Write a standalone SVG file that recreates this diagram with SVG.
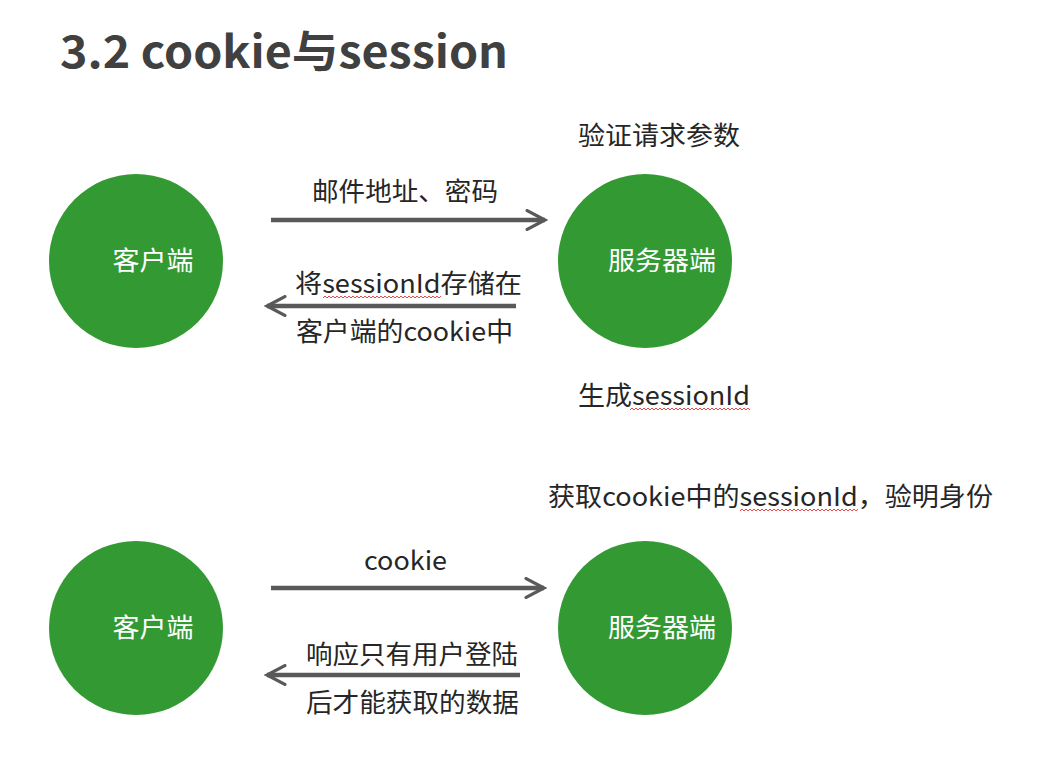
<svg xmlns="http://www.w3.org/2000/svg" width="1049" height="757" viewBox="0 0 1049 757">
<style>
.node{fill:#339933}
.nl{fill:#ffffff;font-family:"Noto Sans CJK SC","Liberation Sans",sans-serif;font-size:26px;text-anchor:middle}
.t{fill:#262626;font-family:"Noto Sans CJK SC","Liberation Sans",sans-serif;font-size:26px}
.c{stroke:#595959;stroke-width:4.5;fill:none}
.sq{stroke:#e84a4a;stroke-width:1;fill:none}
</style>
<defs>
<marker id="ah" viewBox="0 0 12 12" refX="10.5" refY="6" markerWidth="5" markerHeight="5" orient="auto" markerUnits="strokeWidth">
<path d="M1,1 L10.5,6 L1,11" fill="none" stroke="#595959" stroke-width="1.8" stroke-linecap="round"/>
</marker>
</defs>
<rect width="1049" height="757" fill="#ffffff"/>
<text x="60" y="68" font-family="Noto Sans CJK SC,Liberation Sans,sans-serif" font-size="44" font-weight="bold" fill="#404040" textLength="448" lengthAdjust="spacingAndGlyphs">3.2 cookie与session</text>
<g id="client1"><circle class="node" cx="136" cy="261" r="87"/><text class="nl" x="153" y="270" textLength="81" lengthAdjust="spacingAndGlyphs">客户端</text></g>
<g id="server1"><circle class="node" cx="645" cy="261" r="87"/><text class="nl" x="662" y="270" textLength="108" lengthAdjust="spacingAndGlyphs">服务器端</text></g>
<g id="client2"><circle class="node" cx="136" cy="628" r="87"/><text class="nl" x="153" y="637" textLength="81" lengthAdjust="spacingAndGlyphs">客户端</text></g>
<g id="server2"><circle class="node" cx="645" cy="628" r="87"/><text class="nl" x="662" y="637" textLength="108" lengthAdjust="spacingAndGlyphs">服务器端</text></g>
<g id="connectors">
<line class="c" x1="271" y1="220" x2="545" y2="220" marker-end="url(#ah)"/>
<line class="c" x1="516" y1="306" x2="267" y2="306" marker-end="url(#ah)"/>
<line class="c" x1="271" y1="588" x2="544" y2="588" marker-end="url(#ah)"/>
<line class="c" x1="520" y1="675" x2="267" y2="675" marker-end="url(#ah)"/>
</g>
<g id="labels">
<text class="t" x="578" y="145" textLength="162" lengthAdjust="spacingAndGlyphs">验证请求参数</text>
<text class="t" x="312" y="201" textLength="186" lengthAdjust="spacingAndGlyphs">邮件地址、密码</text>
<text class="t" x="295" y="293" textLength="227" lengthAdjust="spacingAndGlyphs">将sessionId存储在</text>
<text class="t" x="296" y="341" textLength="217" lengthAdjust="spacingAndGlyphs">客户端的cookie中</text>
<text class="t" x="578" y="405" textLength="172" lengthAdjust="spacingAndGlyphs">生成sessionId</text>
<text class="t" x="548" y="506" textLength="445" lengthAdjust="spacingAndGlyphs">获取cookie中的sessionId，验明身份</text>
<text class="t" x="364" y="570" textLength="83" lengthAdjust="spacingAndGlyphs">cookie</text>
<text class="t" x="306" y="664" textLength="212" lengthAdjust="spacingAndGlyphs">响应只有用户登陆</text>
<text class="t" x="306" y="712" textLength="213" lengthAdjust="spacingAndGlyphs">后才能获取的数据</text>
</g>
<g id="squiggles">
<path class="sq" d="M323,298 l2,-2 l2,2 l2,-2 l2,2 l2,-2 l2,2 l2,-2 l2,2 l2,-2 l2,2 l2,-2 l2,2 l2,-2 l2,2 l2,-2 l2,2 l2,-2 l2,2 l2,-2 l2,2 l2,-2 l2,2 l2,-2 l2,2 l2,-2 l2,2 l2,-2 l2,2 l2,-2 l2,2 l2,-2 l2,2 l2,-2 l2,2 l2,-2 l2,2 l2,-2 l2,2 l2,-2 l2,2 l2,-2 l2,2 l2,-2 l2,2 l2,-2 l2,2 l2,-2 l2,2 l2,-2 l2,2 l2,-2 l2,2 l2,-2 l2,2 l2,-2 l2,2 l2,-2 l2,2 l2,-2"/>
<path class="sq" d="M630,410 l2,-2 l2,2 l2,-2 l2,2 l2,-2 l2,2 l2,-2 l2,2 l2,-2 l2,2 l2,-2 l2,2 l2,-2 l2,2 l2,-2 l2,2 l2,-2 l2,2 l2,-2 l2,2 l2,-2 l2,2 l2,-2 l2,2 l2,-2 l2,2 l2,-2 l2,2 l2,-2 l2,2 l2,-2 l2,2 l2,-2 l2,2 l2,-2 l2,2 l2,-2 l2,2 l2,-2 l2,2 l2,-2 l2,2 l2,-2 l2,2 l2,-2 l2,2 l2,-2 l2,2 l2,-2 l2,2 l2,-2 l2,2 l2,-2 l2,2 l2,-2 l2,2 l2,-2 l2,2 l2,-2 l2,2"/>
<path class="sq" d="M740,511 l2,-2 l2,2 l2,-2 l2,2 l2,-2 l2,2 l2,-2 l2,2 l2,-2 l2,2 l2,-2 l2,2 l2,-2 l2,2 l2,-2 l2,2 l2,-2 l2,2 l2,-2 l2,2 l2,-2 l2,2 l2,-2 l2,2 l2,-2 l2,2 l2,-2 l2,2 l2,-2 l2,2 l2,-2 l2,2 l2,-2 l2,2 l2,-2 l2,2 l2,-2 l2,2 l2,-2 l2,2 l2,-2 l2,2 l2,-2 l2,2 l2,-2 l2,2 l2,-2 l2,2 l2,-2 l2,2 l2,-2 l2,2 l2,-2 l2,2 l2,-2 l2,2 l2,-2 l2,2 l2,-2"/>
</g>
</svg>
